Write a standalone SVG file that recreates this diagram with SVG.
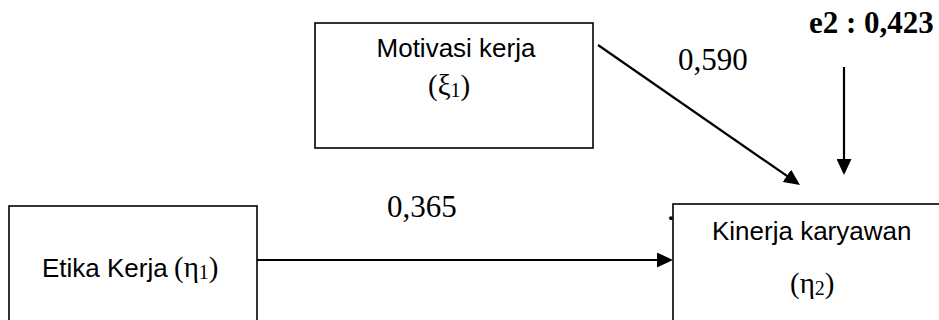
<svg xmlns="http://www.w3.org/2000/svg" width="939" height="320" viewBox="0 0 939 320">
<defs>
<style>
.box{fill:#fff;stroke:#000;stroke-width:1.6}
.lbl{font-family:"Liberation Sans",Arial,sans-serif;font-size:26px;fill:#000}
.sym{font-family:"Liberation Serif","Times New Roman",serif;font-size:29px;fill:#000}
.num{font-family:"Liberation Serif","Times New Roman",serif;font-size:31px;fill:#000}
.bold{font-family:"Liberation Serif","Times New Roman",serif;font-size:31px;font-weight:bold;fill:#000}
.conn{stroke:#000;stroke-width:2.2;fill:none}
</style>
<marker id="ah" markerUnits="userSpaceOnUse" markerWidth="17" markerHeight="15" refX="12" refY="7.5" orient="auto">
<path d="M0,0 L16,7.5 L0,15 z" fill="#000"/>
</marker>
</defs>
<rect width="939" height="320" fill="#fff"/>
<g id="motivasi">
<rect class="box" x="315" y="23" width="278" height="125"/>
<text class="lbl" x="456" y="57" text-anchor="middle">Motivasi kerja</text>
<text class="sym" x="428" y="95">(ξ<tspan font-size="20" dy="2">1</tspan><tspan dy="-2">)</tspan></text>
</g>
<g id="etika">
<rect class="box" x="9" y="206" width="248" height="200"/>
<text class="lbl" x="42" y="277">Etika Kerja</text>
<text class="sym" x="174" y="277">(η<tspan font-size="20" dy="2">1</tspan><tspan dy="-2">)</tspan></text>
</g>
<g id="kinerja">
<rect class="box" x="673" y="204" width="300" height="200"/>
<text class="lbl" x="712" y="240">Kinerja karyawan</text>
<text class="sym" x="790" y="293">(η<tspan font-size="20" dy="2">2</tspan><tspan dy="-2">)</tspan></text>
<text class="num" x="667" y="220" font-size="24">.</text>
</g>
<g id="connectors">
<line class="conn" x1="257" y1="260" x2="669" y2="260" marker-end="url(#ah)"/>
<line class="conn" x1="598" y1="45" x2="796.7" y2="182.7" marker-end="url(#ah)"/>
<line class="conn" x1="844" y1="67" x2="844" y2="171" marker-end="url(#ah)"/>
</g>
<g id="labels">
<text class="num" x="678" y="70">0,590</text>
<text class="num" x="387" y="217">0,365</text>
<text class="bold" x="809" y="33">e2 : 0,423</text>
</g>
</svg>
